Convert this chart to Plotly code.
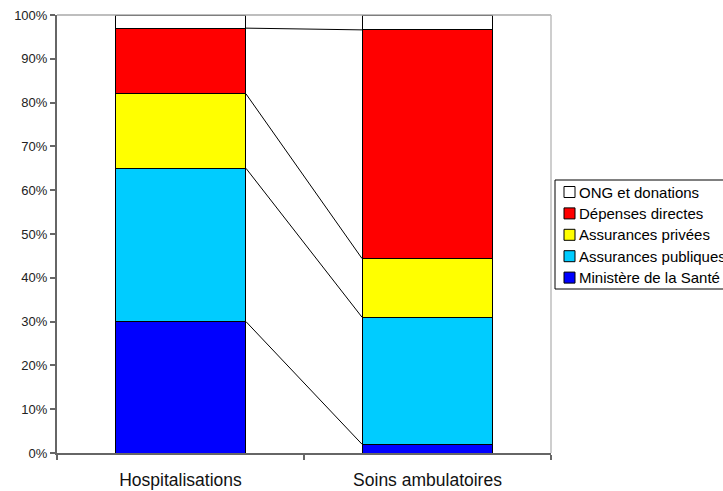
import plotly.graph_objects as go

# Categories and shares of financing (%) per care type
categories = ["Hospitalisations", "Soins ambulatoires"]
ministere = [30.0, 2.0]
assurances_publiques = [35.0, 29.0]
assurances_privees = [17.0, 13.4]
depenses_directes = [15.0, 52.2]
ong_donations = [3.0, 3.4]

series = [
    ("Ministère de la Santé", ministere, "#0000FF"),
    ("Assurances publiques", assurances_publiques, "#00CCFF"),
    ("Assurances privées", assurances_privees, "#FFFF00"),
    ("Dépenses directes", depenses_directes, "#FF0000"),
    ("ONG et donations", ong_donations, "#FFFFFF"),
]

W, H = 723, 491
ML, MR, MT, MB = 57, 172, 15, 38
PW, PH = W - ML - MR, H - MT - MB

def px_x(px):
    return (px - ML) / PW

def px_y(py):
    return 1 - (py - MT) / PH

BAR_W = 0.53
xpos = list(range(len(categories)))

fig = go.Figure()
for name, vals, color in series:
    fig.add_trace(go.Bar(
        x=xpos, y=vals, name=name, width=BAR_W,
        marker=dict(color=color, line=dict(color="#000000", width=1)),
        showlegend=False,
    ))

# Series lines joining the stack boundaries of the two columns
cum = [0.0, 0.0]
for name, vals, color in series[:-1]:
    cum = [cum[i] + vals[i] for i in range(2)]
    fig.add_trace(go.Scatter(
        x=[xpos[0] + BAR_W / 2, xpos[1] - BAR_W / 2], y=cum,
        mode="lines", line=dict(color="#000000", width=1),
        showlegend=False, hoverinfo="skip",
    ))

# Plot-area border (top and right)
fig.add_shape(type="line", xref="paper", yref="paper", x0=0, x1=1, y0=1, y1=1,
              line=dict(color="#A8A8A8", width=1.5))
fig.add_shape(type="line", xref="paper", yref="paper", x0=1, x1=1, y0=0, y1=1,
              line=dict(color="#BEBEBE", width=1.5))

# Legend box, drawn with shapes and text (top entry = last series)
fig.add_shape(type="rect", xref="paper", yref="paper",
              x0=px_x(555), x1=px_x(740), y0=px_y(180), y1=px_y(289),
              line=dict(color="#000000", width=1), fillcolor="#FFFFFF", layer="above")
row0, step = 192.0, 21.4
for i, (name, vals, color) in enumerate(reversed(series)):
    cy = row0 + i * step
    fig.add_shape(type="rect", xref="paper", yref="paper",
                  x0=px_x(564), x1=px_x(575), y0=px_y(cy - 5.5), y1=px_y(cy + 5.5),
                  line=dict(color="#000000", width=1), fillcolor=color, layer="above")
    fig.add_annotation(x=px_x(577), y=px_y(cy), xref="paper", yref="paper",
                       text=name, showarrow=False, xanchor="left", yanchor="middle",
                       font=dict(size=15, color="#000000"))

fig.update_layout(
    width=W, height=H,
    margin=dict(l=ML, r=MR, t=MT, b=MB, autoexpand=False),
    barmode="stack",
    plot_bgcolor="#FFFFFF", paper_bgcolor="#FFFFFF",
    font=dict(family="Liberation Sans, Arial, sans-serif", color="#000000"),
    showlegend=False,
    xaxis=dict(
        range=[-0.5, 1.5],
        tickvals=xpos, ticktext=categories,
        ticks="", showgrid=False, zeroline=False,
        showline=True, linecolor="#666666", linewidth=2,
        tickfont=dict(size=17.5, color="#111111"),
        minor=dict(tick0=-0.5, dtick=1, ticks="outside", ticklen=5,
                   tickcolor="#666666", tickwidth=1.5, showgrid=False),
        ticklabelstandoff=10,
    ),
    yaxis=dict(
        range=[0, 100], dtick=10, ticksuffix="%",
        ticks="outside", ticklen=5, tickcolor="#666666", tickwidth=1.5,
        showgrid=False, zeroline=False,
        showline=True, linecolor="#666666", linewidth=2,
        tickfont=dict(size=13, color="#222222"),
    ),
)

fig.write_html("out.html")
